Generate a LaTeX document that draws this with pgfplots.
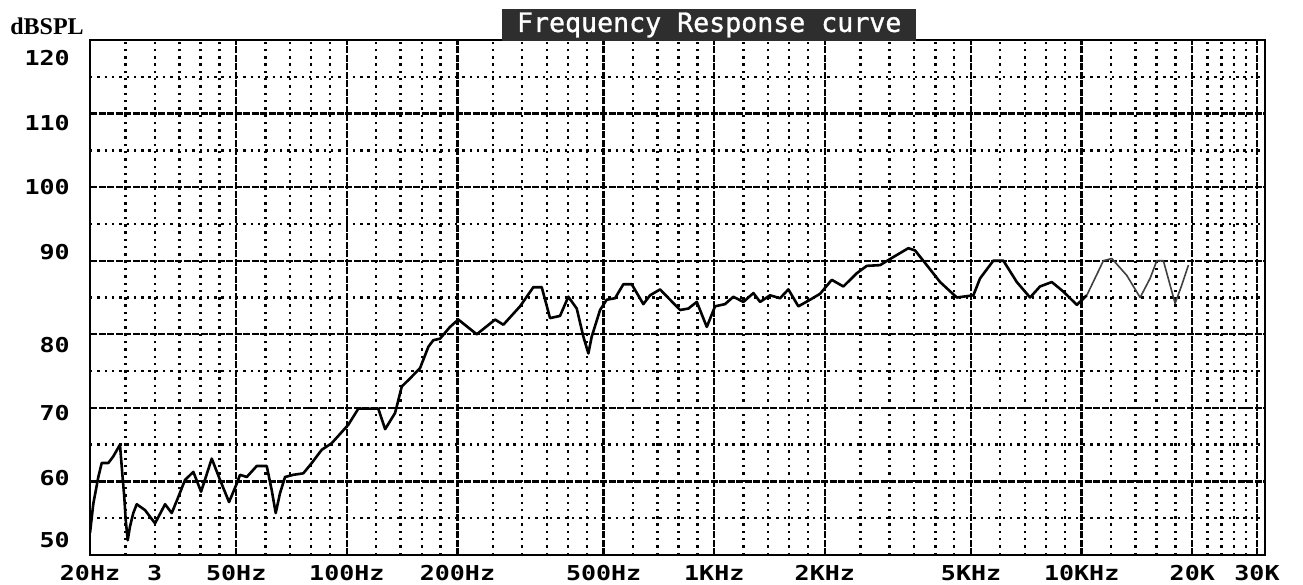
\documentclass[border=0pt]{standalone}
\usepackage{fontspec}
\usepackage{pgfplots}
\pgfplotsset{compat=1.18}
\newfontfamily\lblfont[FakeStretch=1.22]{DejaVu Sans Mono}
\newfontfamily\ttlfont[FakeBold=1.2]{DejaVu Sans Mono}
\newfontfamily\dbfont{Liberation Serif}
\begin{document}
\begin{tikzpicture}[x=1pt,y=1pt]
\useasboundingbox (0,0) rectangle (1303,584);
\begin{axis}[
  at={(90pt,29pt)}, anchor=south west,
  scale only axis, width=1175pt, height=515pt,
  xmode=log, log basis x=10,
  xmin=20, xmax=31550, ymin=50, ymax=120,
  xtick={20,50,100,200,500,1000,2000,5000,10000,20000,30000},
  xticklabels={20Hz,50Hz,100Hz,200Hz,500Hz,1KHz,2KHz,5KHz,10KHz,20K,30K},
  extra x ticks={30},
  extra x tick labels={3},
  extra x tick style={grid=none},
  minor xtick={25,30,35,40,45,60,70,80,90,120,140,160,180,250,300,350,400,450,600,700,800,900,1200,1400,1600,1800,2500,3000,3500,4000,4500,6000,7000,8000,9000,12000,14000,16000,18000,22000,24000,26000,28000},
  ytick={50,60,...,120},
  minor ytick={55,65,...,115},
  yticklabels={
    \raisebox{7.4pt}[0pt][0pt]{50},
    \raisebox{-3.6pt}[0pt][0pt]{60},
    \raisebox{-12.6pt}[0pt][0pt]{70},
    \raisebox{-18.6pt}[0pt][0pt]{80},
    \raisebox{1.4pt}[0pt][0pt]{90},
    \raisebox{-7.6pt}[0pt][0pt]{100},
    \raisebox{-16.6pt}[0pt][0pt]{110},
    \raisebox{-25.6pt}[0pt][0pt]{120}},
  grid=both,
  major grid style={black, line width=2.4pt, dash pattern=on 7pt off 1.5pt},
  minor grid style={black, line width=2.4pt, dash pattern=on 2.4pt off 4.9pt},
  major tick length=0pt, minor tick length=0pt,
  tick style={draw=none},
  axis line style={line width=2.6pt},
  xticklabel style={font=\lblfont\bfseries\fontsize{20.5}{20.5}\selectfont, anchor=center, yshift=-18pt, inner sep=0pt},
  yticklabel style={font=\lblfont\bfseries\fontsize{20.5}{20.5}\selectfont, anchor=east, inner sep=0pt, xshift=-20pt},
  title={Frequency Response curve},
  title style={at={(axis description cs:0.527,1)}, anchor=south, yshift=-7pt,
    fill=black!82, text=white, font=\ttlfont\fontsize{26.6}{26.6}\selectfont,
    minimum width=414pt, minimum height=32pt, inner sep=0pt, outer sep=0pt},
]
\addplot[black, line width=2.6pt, line join=round] coordinates {
(20,53.0) (20.42,57.0) (21.07,60.6) (21.52,62.5) (22.43,62.5) (23.14,63.4)
(24.13,65.0) (24.48,61.1) (24.79,57.9) (25.01,54.8) (25.33,52.0) (25.70,53.9)
(26.23,55.7) (26.80,56.9) (28.24,56.1) (30.06,54.3) (32.01,56.9) (33.38,55.7)
(34.79,57.9) (36.28,60.2) (38.22,61.3) (40.11,58.6) (42.89,63.1) (45.18,60.2)
(47.80,57.2) (50.16,59.7) (51.21,60.9) (53.40,60.6) (56.87,62.1) (60.53,62.1)
(62.46,58.8) (64.04,55.7) (65.79,58.4) (67.89,60.6) (71.51,60.9) (76.14,61.1)
(80.25,62.5) (85.44,64.3) (90.97,65.2) (100.9,67.7) (107.5,69.9) (121.8,69.9)
(127.1,67.1) (135.3,69.3) (141.1,72.9) (148.6,74.0) (158.2,75.4) (166.7,78.3)
(172.0,79.2) (179.3,79.4) (190.9,81.0) (201.1,82.0) (225.7,80.0) (253.2,82.0)
(266.7,81.3) (296.1,83.8) (321.8,86.4) (339.2,86.4) (357.3,82.2) (380.4,82.5)
(400.7,85.1) (422.4,83.5) (440.2,79.7) (454.3,77.4) (464.1,79.7) (488.8,83.3)
(509.7,84.7) (537.0,84.9) (565.7,86.8) (596.2,86.8) (641.2,84.1) (668.8,85.3)
(712.0,86.1) (758.2,84.7) (807.3,83.3) (850.3,83.5) (896.3,84.4) (954.2,81.0)
(1005,83.8) (1070,84.1) (1127,85.1) (1200,84.4) (1278,85.6) (1333,84.4)
(1419,85.3) (1510,84.9) (1591,86.1) (1694,83.8) (1823,84.7) (1941,85.5)
(2088,87.4) (2246,86.5) (2443,88.3) (2601,89.3) (2827,89.4) (3072,90.5)
(3374,91.7) (3520,91.4) (3788,89.4) (4117,87.1) (4573,85.0) (5072,85.3)
(5290,87.6) (5748,90.0) (6122,90.0) (6660,87.1) (7236,85.0) (7703,86.5)
(8293,87.1) (8918,85.8) (9700,84.0) (10327,85.3)
};
\addplot[black!75, line width=1.6pt, line join=round] coordinates {
(10327,85.3) (11458,90.0) (12078,90.3) (13266,88.0) (14422,85.0) (15354,87.6)
(16012,90.0) (16688,90.0) (17958,84.2) (18730,86.7) (19520,89.4)
};
\end{axis}
\node[font=\dbfont\bfseries\fontsize{24}{24}\selectfont, anchor=center] at (47,558) {dBSPL};
\end{tikzpicture}
\end{document}
